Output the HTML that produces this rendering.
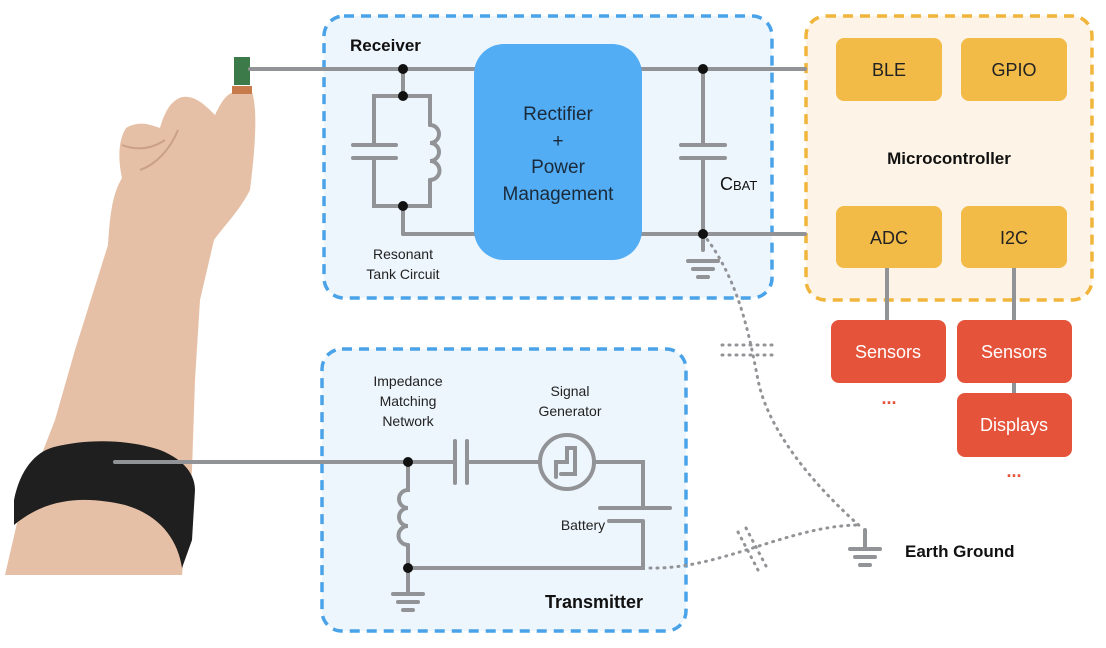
<!DOCTYPE html>
<html><head><style>
html,body{margin:0;padding:0;background:#fff;}
svg{display:block;font-family:"Liberation Sans",sans-serif;}
</style></head><body>
<svg width="1106" height="648" viewBox="0 0 1106 648" xmlns="http://www.w3.org/2000/svg">
<!-- arm -->
<path d="M5,575 L20,510 L55,420 L75,350 L108,245 C110,215 112,195 122,178 C118,160 118,140 126,128 C140,120 150,125 160,128 C165,110 172,100 182,97 C195,95 205,105 215,115 C222,100 228,92 236,92 L252,92 C258,110 255,150 250,190 C240,210 225,225 214,240 L200,300 L195,380 L192,470 L182,575 Z" fill="#e6c0a6"/>
<path d="M122,145 C135,150 150,150 165,140 M140,170 C155,165 170,150 178,130" stroke="#caa088" stroke-width="2" fill="none"/>
<path d="M14,500 C20,470 35,452 54,447 C90,438 130,440 160,450 C185,460 195,475 195,490 L192,540 L182,568 C178,540 160,515 125,505 C90,497 50,495 14,525 Z" fill="#1f1f1f"/>
<rect x="234" y="57" width="16" height="28" fill="#3d7a4a"/>
<rect x="232" y="86" width="20" height="8" fill="#c77b4a"/>
<!-- receiver box -->
<rect x="324" y="16" width="448" height="282" rx="20" fill="#eef6fd" stroke="#4aa3e8" stroke-width="3.5" stroke-dasharray="10,7"/>
<!-- mcu box -->
<rect x="806" y="16" width="286" height="284" rx="20" fill="#fdf3e6" stroke="#f0b53a" stroke-width="3.5" stroke-dasharray="10,7"/>
<!-- transmitter box -->
<rect x="322" y="349" width="364" height="282" rx="20" fill="#eef6fd" stroke="#4aa3e8" stroke-width="3.5" stroke-dasharray="10,7"/>
<g stroke="#919396" stroke-width="4" fill="none" stroke-linecap="round">
<line x1="250" y1="69" x2="805" y2="69"/>
<line x1="403" y1="234" x2="805" y2="234"/>
<line x1="403" y1="69" x2="403" y2="96"/>
<line x1="403" y1="206" x2="403" y2="234"/>
<path d="M403,96 H374 V145 M374,158 V206 H430 V180 M403,96 H430 V125"/>
<line x1="353" y1="145" x2="396" y2="145"/><line x1="353" y1="158" x2="396" y2="158"/>
<path d="M430,125 a9,9 0 0 1 0,18 a9,9 0 0 1 0,18 a9,9 0 0 1 0,19"/>
<line x1="703" y1="69" x2="703" y2="145"/><line x1="703" y1="158" x2="703" y2="250"/>
<line x1="681" y1="145" x2="725" y2="145"/><line x1="681" y1="158" x2="725" y2="158"/>
<line x1="688" y1="261" x2="718" y2="261"/><line x1="693" y1="269" x2="713" y2="269"/><line x1="698" y1="277" x2="708" y2="277"/>
<line x1="887" y1="268" x2="887" y2="320"/><line x1="1014" y1="268" x2="1014" y2="395"/>
<!-- transmitter -->
<line x1="115" y1="462" x2="445" y2="462"/>
<line x1="445" y1="462" x2="455" y2="462"/>
<line x1="455" y1="441" x2="455" y2="483"/><line x1="467" y1="441" x2="467" y2="483"/>
<line x1="467" y1="462" x2="540" y2="462"/>
<circle cx="567" cy="462" r="27"/>
<path d="M556,477 V462 H567 V448 H575 V474 H561"/>
<path d="M594,462 H643 V508"/>
<line x1="600" y1="508" x2="670" y2="508"/><line x1="609" y1="521" x2="641" y2="521"/>
<path d="M643,521 V568 H408 V545"/>
<path d="M408,462 V490 a9,9 0 0 0 0,18 a9,9 0 0 0 0,18 a9,9 0 0 0 0,19"/>
<line x1="408" y1="568" x2="408" y2="594"/>
<line x1="393" y1="594" x2="423" y2="594"/><line x1="398" y1="602" x2="418" y2="602"/><line x1="403" y1="610" x2="413" y2="610"/>
<!-- earth ground -->
<line x1="865" y1="530" x2="865" y2="549"/>
<line x1="850" y1="549" x2="880" y2="549"/><line x1="855" y1="557" x2="875" y2="557"/><line x1="860" y1="565" x2="870" y2="565"/>
</g>
<g stroke="#919396" stroke-width="3" fill="none" stroke-dasharray="1,6" stroke-linecap="round">
<path d="M703,234 C740,280 750,340 758,380 C770,440 830,500 862,528"/>
<path d="M650,568 C720,570 790,525 860,525"/>
<path d="M722,345 H772 M722,355 H772"/>
<path d="M738,532 L758,570 M746,528 L766,566"/>
</g>
<g fill="#111">
<circle cx="403" cy="69" r="5"/><circle cx="403" cy="96" r="5"/><circle cx="403" cy="206" r="5"/>
<circle cx="703" cy="69" r="5"/><circle cx="703" cy="234" r="5"/>
<circle cx="408" cy="462" r="5"/><circle cx="408" cy="568" r="5"/>
</g>
<rect x="474" y="44" width="168" height="216" rx="30" fill="#52adf5"/>
<g font-size="19" fill="#1a2a3a" text-anchor="middle">
<text x="558" y="120">Rectifier</text><text x="558" y="147">+</text>
<text x="558" y="173">Power</text><text x="558" y="200">Management</text>
</g>
<text x="720" y="190" font-size="18" fill="#111">C<tspan font-size="13">BAT</tspan></text>
<text x="350" y="51" font-size="17" font-weight="bold" fill="#111">Receiver</text>
<g font-size="14" fill="#222" text-anchor="middle">
<text x="403" y="259">Resonant</text><text x="403" y="279">Tank Circuit</text>
<text x="408" y="386">Impedance</text><text x="408" y="406">Matching</text><text x="408" y="426">Network</text>
<text x="570" y="396">Signal</text><text x="570" y="416">Generator</text>
<text x="583" y="530">Battery</text>
</g>
<text x="545" y="608" font-size="18" font-weight="bold" fill="#111">Transmitter</text>
<text x="905" y="557" font-size="17" font-weight="bold" fill="#111">Earth Ground</text>
<!-- mcu blocks -->
<g fill="#f2bb48">
<rect x="836" y="38" width="106" height="63" rx="8"/><rect x="961" y="38" width="106" height="63" rx="8"/>
<rect x="836" y="206" width="106" height="62" rx="8"/><rect x="961" y="206" width="106" height="62" rx="8"/>
</g>
<g font-size="18" fill="#222" text-anchor="middle">
<text x="889" y="76">BLE</text><text x="1014" y="76">GPIO</text>
<text x="889" y="244">ADC</text><text x="1014" y="244">I2C</text>
</g>
<text x="949" y="164" font-size="17" font-weight="bold" fill="#111" text-anchor="middle">Microcontroller</text>
<g fill="#e5533a">
<rect x="831" y="320" width="115" height="63" rx="8"/><rect x="957" y="320" width="115" height="63" rx="8"/>
<rect x="957" y="393" width="115" height="64" rx="8"/>
</g>
<g font-size="18" fill="#fff" text-anchor="middle">
<text x="888" y="358">Sensors</text><text x="1014" y="358">Sensors</text><text x="1014" y="431">Displays</text>
</g>
<g font-size="18" font-weight="bold" fill="#e5533a" text-anchor="middle">
<text x="889" y="404">...</text><text x="1014" y="477">...</text>
</g>
</svg>
</body></html>
